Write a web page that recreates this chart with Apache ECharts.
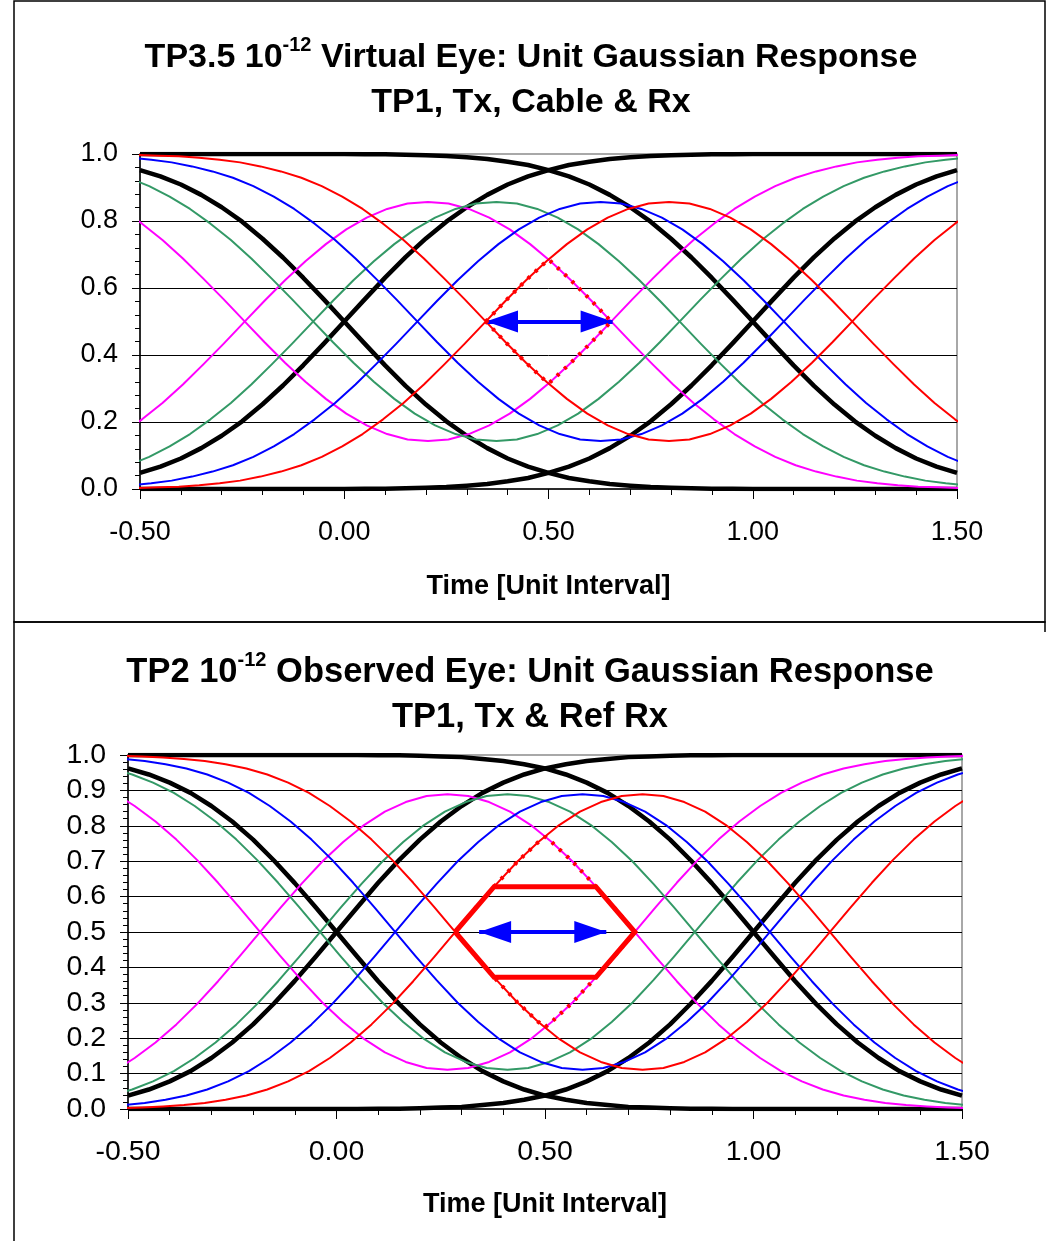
<!DOCTYPE html>
<html>
<head>
<meta charset="utf-8">
<script src="https://cdn.jsdelivr.net/npm/echarts@6/dist/echarts.min.js"></script>
<style>
html,body{margin:0;padding:0;background:#ffffff;}
#chart{width:1050px;height:1241px;}
</style>
</head>
<body>
<div id="chart"></div>
<script>
const FONT = "'Liberation Sans', Arial, Helvetica, sans-serif";

// ---------- tick labels ----------
const xTickLabels = ['-0.50', '0.00', '0.50', '1.00', '1.50'];
const yTickLabelsP1 = ['0.0', '0.2', '0.4', '0.6', '0.8', '1.0'];
const yTickLabelsP2 = ['0.0', '0.1', '0.2', '0.3', '0.4', '0.5', '0.6', '0.7', '0.8', '0.9', '1.0'];

// ---------- sample times [UI] for the black edges ----------
const timeX = [-0.5,-0.45,-0.4,-0.35,-0.3,-0.25,-0.2,-0.15,-0.1,-0.05,0,0.05,0.1,0.15,0.2,0.25,0.3,0.35,0.4,0.45,0.5,0.55,0.6,0.65,0.7,0.75,0.8,0.85,0.9,0.95,1,1.05,1.1,1.15,1.2,1.25,1.3,1.35,1.4,1.45,1.5];

// ================= Panel 1 : TP3.5 virtual eye =================
const blackRise0P1 = [0.048,0.067,0.091,0.122,0.159,0.202,0.253,0.309,0.370,0.434,0.500,0.566,0.631,0.692,0.748,0.798,0.841,0.878,0.909,0.933,0.952,0.967,0.977,0.985,0.990,0.994,0.996,0.998,0.999,0.999,1,1,1,1,1,1,1,1,1,1,1];
const blackFall0P1 = [0.952,0.933,0.909,0.878,0.841,0.798,0.747,0.691,0.630,0.566,0.500,0.434,0.369,0.308,0.252,0.202,0.159,0.122,0.091,0.067,0.048,0.033,0.023,0.015,0.010,0.006,0.004,0.002,0.001,0.001,0,0,0,0,0,0,0,0,0,0,0];
const blackRise1P1 = [0,0,0,0,0,0,0,0,0,0,0,0.001,0.001,0.002,0.004,0.006,0.010,0.015,0.023,0.033,0.048,0.067,0.091,0.122,0.159,0.202,0.253,0.309,0.370,0.434,0.500,0.566,0.631,0.692,0.748,0.798,0.841,0.878,0.909,0.933,0.952];
const blackFall1P1 = [1,1,1,1,1,1,1,1,1,1,1,0.999,0.999,0.998,0.996,0.994,0.990,0.985,0.977,0.967,0.952,0.933,0.909,0.878,0.841,0.798,0.747,0.691,0.630,0.566,0.500,0.434,0.369,0.308,0.252,0.202,0.159,0.122,0.091,0.067,0.048];

const redXP1 = [-0.505,-0.455,-0.405,-0.355,-0.305,-0.255,-0.205,-0.155,-0.105,-0.055,-0.005,0.045,0.095,0.145,0.195,0.245,0.295,0.345,0.395,0.445,0.495,0.545,0.595,0.645,0.695,0.745,0.795,0.845,0.895,0.945,0.995,1.045,1.095,1.145,1.195,1.245,1.295,1.345,1.395,1.445,1.495,1.545];
const redP1 = [0.003,0.005,0.007,0.011,0.017,0.025,0.037,0.052,0.071,0.096,0.127,0.164,0.208,0.257,0.312,0.372,0.434,0.498,0.562,0.623,0.680,0.731,0.775,0.810,0.836,0.852,0.857,0.852,0.836,0.810,0.775,0.731,0.680,0.623,0.562,0.498,0.434,0.372,0.312,0.257,0.208,0.164];
const redInvP1 = [0.997,0.995,0.993,0.989,0.983,0.975,0.963,0.948,0.929,0.904,0.873,0.836,0.792,0.743,0.688,0.628,0.566,0.502,0.438,0.377,0.320,0.269,0.225,0.190,0.164,0.148,0.143,0.148,0.164,0.190,0.225,0.269,0.320,0.377,0.438,0.502,0.566,0.628,0.688,0.743,0.792,0.836];

const magXP1 = [-0.545,-0.495,-0.445,-0.395,-0.345,-0.295,-0.245,-0.195,-0.145,-0.095,-0.045,0.005,0.055,0.105,0.155,0.205,0.255,0.305,0.355,0.405,0.455,0.505,0.555,0.605,0.655,0.705,0.755,0.805,0.855,0.905,0.955,1.005,1.055,1.105,1.155,1.205,1.255,1.305,1.355,1.405,1.455,1.505];
const magP1 = [0.164,0.208,0.257,0.312,0.372,0.434,0.498,0.562,0.623,0.680,0.731,0.775,0.810,0.836,0.852,0.857,0.852,0.836,0.810,0.775,0.731,0.680,0.623,0.562,0.498,0.434,0.372,0.312,0.257,0.208,0.164,0.127,0.096,0.071,0.052,0.037,0.025,0.017,0.011,0.007,0.005,0.003];
const magInvP1 = [0.836,0.792,0.743,0.688,0.628,0.566,0.502,0.438,0.377,0.320,0.269,0.225,0.190,0.164,0.148,0.143,0.148,0.164,0.190,0.225,0.269,0.320,0.377,0.438,0.502,0.566,0.628,0.688,0.743,0.792,0.836,0.873,0.904,0.929,0.948,0.963,0.975,0.983,0.989,0.993,0.995,0.997];

const blueXP1 = [-0.5225,-0.4725,-0.4225,-0.3725,-0.3225,-0.2725,-0.2225,-0.1725,-0.1225,-0.0725,-0.0225,0.0275,0.0775,0.1275,0.1775,0.2275,0.2775,0.3275,0.3775,0.4275,0.4775,0.5275,0.5775,0.6275,0.6775,0.7275,0.7775,0.8275,0.8775,0.9275,0.9775,1.0275,1.0775,1.1275,1.1775,1.2275,1.2775,1.3275,1.3775,1.4275,1.4775,1.5275];
const blueP1 = [0.011,0.017,0.025,0.037,0.052,0.071,0.096,0.127,0.164,0.208,0.257,0.312,0.372,0.434,0.498,0.562,0.623,0.680,0.731,0.775,0.810,0.836,0.852,0.857,0.852,0.836,0.810,0.775,0.731,0.680,0.623,0.562,0.498,0.434,0.372,0.312,0.257,0.208,0.164,0.127,0.096,0.071];
const blueInvP1 = [0.989,0.983,0.975,0.963,0.948,0.929,0.904,0.873,0.836,0.792,0.743,0.688,0.628,0.566,0.502,0.438,0.377,0.320,0.269,0.225,0.190,0.164,0.148,0.143,0.148,0.164,0.190,0.225,0.269,0.320,0.377,0.438,0.502,0.566,0.628,0.688,0.743,0.792,0.836,0.873,0.904,0.929];

const greenXP1 = [-0.5275,-0.4775,-0.4275,-0.3775,-0.3275,-0.2775,-0.2275,-0.1775,-0.1275,-0.0775,-0.0275,0.0225,0.0725,0.1225,0.1725,0.2225,0.2725,0.3225,0.3725,0.4225,0.4725,0.5225,0.5725,0.6225,0.6725,0.7225,0.7725,0.8225,0.8725,0.9225,0.9725,1.0225,1.0725,1.1225,1.1725,1.2225,1.2725,1.3225,1.3725,1.4225,1.4725,1.5225];
const greenP1 = [0.071,0.096,0.127,0.164,0.208,0.257,0.312,0.372,0.434,0.498,0.562,0.623,0.680,0.731,0.775,0.810,0.836,0.852,0.857,0.852,0.836,0.810,0.775,0.731,0.680,0.623,0.562,0.498,0.434,0.372,0.312,0.257,0.208,0.164,0.127,0.096,0.071,0.052,0.037,0.025,0.017,0.011];
const greenInvP1 = [0.929,0.904,0.873,0.836,0.792,0.743,0.688,0.628,0.566,0.502,0.438,0.377,0.320,0.269,0.225,0.190,0.164,0.148,0.143,0.148,0.164,0.190,0.225,0.269,0.320,0.377,0.438,0.502,0.566,0.628,0.688,0.743,0.792,0.836,0.873,0.904,0.929,0.948,0.963,0.975,0.983,0.989];

// eye boundary (dotted) and eye-width arrow
const eyeXP1 = [0.3466,0.395,0.445,0.495,0.5,0.505,0.555,0.605,0.6534,0.605,0.555,0.505,0.5,0.495,0.445,0.395,0.3466];
const eyeYP1 = [0.5,0.562,0.623,0.680,0.685,0.680,0.623,0.562,0.5,0.438,0.377,0.320,0.315,0.320,0.377,0.438,0.5];
const arrowXP1 = [0.347, 0.657];
const arrowY = 0.5;

// ================= Panel 2 : TP2 observed eye =================
const blackRise0P2 = [0.038,0.055,0.078,0.107,0.144,0.188,0.239,0.298,0.362,0.430,0.500,0.570,0.639,0.703,0.761,0.812,0.856,0.893,0.922,0.945,0.962,0.974,0.983,0.989,0.994,0.996,0.998,0.999,0.999,1,1,1,1,1,1,1,1,1,1,1,1];
const blackFall0P2 = [0.962,0.945,0.922,0.893,0.856,0.812,0.761,0.702,0.638,0.570,0.500,0.430,0.361,0.297,0.239,0.188,0.144,0.107,0.078,0.055,0.038,0.026,0.017,0.011,0.006,0.004,0.002,0.001,0.001,0,0,0,0,0,0,0,0,0,0,0,0];
const blackRise1P2 = [0,0,0,0,0,0,0,0,0,0,0,0,0.001,0.001,0.002,0.004,0.006,0.011,0.017,0.026,0.038,0.055,0.078,0.107,0.144,0.188,0.239,0.298,0.362,0.430,0.500,0.570,0.639,0.703,0.761,0.812,0.856,0.893,0.922,0.945,0.962];
const blackFall1P2 = [1,1,1,1,1,1,1,1,1,1,1,1,0.999,0.999,0.998,0.996,0.994,0.989,0.983,0.974,0.962,0.945,0.922,0.893,0.856,0.812,0.761,0.702,0.638,0.570,0.500,0.430,0.361,0.297,0.239,0.188,0.144,0.107,0.078,0.055,0.038];

const redXP2 = [-0.516,-0.466,-0.416,-0.366,-0.316,-0.266,-0.216,-0.166,-0.116,-0.066,-0.016,0.034,0.084,0.134,0.184,0.234,0.284,0.334,0.384,0.434,0.484,0.534,0.584,0.634,0.684,0.734,0.784,0.834,0.884,0.934,0.984,1.034,1.084,1.134,1.184,1.234,1.284,1.334,1.384,1.434,1.484,1.534];
const redP2 = [0.002,0.004,0.007,0.011,0.017,0.026,0.038,0.055,0.078,0.107,0.144,0.188,0.239,0.297,0.361,0.429,0.499,0.569,0.636,0.699,0.754,0.802,0.840,0.867,0.884,0.889,0.884,0.867,0.840,0.802,0.754,0.699,0.636,0.569,0.499,0.429,0.361,0.297,0.239,0.188,0.144,0.107];
const redInvP2 = [0.998,0.996,0.993,0.989,0.983,0.974,0.962,0.945,0.922,0.893,0.856,0.812,0.761,0.703,0.639,0.571,0.501,0.431,0.364,0.301,0.246,0.198,0.160,0.133,0.116,0.111,0.116,0.133,0.160,0.198,0.246,0.301,0.364,0.431,0.501,0.571,0.639,0.703,0.761,0.812,0.856,0.893];

const magXP2 = [-0.534,-0.484,-0.434,-0.384,-0.334,-0.284,-0.234,-0.184,-0.134,-0.084,-0.034,0.016,0.066,0.116,0.166,0.216,0.266,0.316,0.366,0.416,0.466,0.516,0.566,0.616,0.666,0.716,0.766,0.816,0.866,0.916,0.966,1.016,1.066,1.116,1.166,1.216,1.266,1.316,1.366,1.416,1.466,1.516];
const magP2 = [0.107,0.144,0.188,0.239,0.297,0.361,0.429,0.499,0.569,0.636,0.699,0.754,0.802,0.840,0.867,0.884,0.889,0.884,0.867,0.840,0.802,0.754,0.699,0.636,0.569,0.499,0.429,0.361,0.297,0.239,0.188,0.144,0.107,0.078,0.055,0.038,0.026,0.017,0.011,0.007,0.004,0.002];
const magInvP2 = [0.893,0.856,0.812,0.761,0.703,0.639,0.571,0.501,0.431,0.364,0.301,0.246,0.198,0.160,0.133,0.116,0.111,0.116,0.133,0.160,0.198,0.246,0.301,0.364,0.431,0.501,0.571,0.639,0.703,0.761,0.812,0.856,0.893,0.922,0.945,0.962,0.974,0.983,0.989,0.993,0.996,0.998];

const blueXP2 = [-0.51,-0.46,-0.41,-0.36,-0.31,-0.26,-0.21,-0.16,-0.11,-0.06,-0.01,0.04,0.09,0.14,0.19,0.24,0.29,0.34,0.39,0.44,0.49,0.54,0.59,0.64,0.69,0.74,0.79,0.84,0.89,0.94,0.99,1.04,1.09,1.14,1.19,1.24,1.29,1.34,1.39,1.44,1.49,1.54];
const blueP2 = [0.011,0.017,0.026,0.038,0.055,0.078,0.107,0.144,0.188,0.239,0.297,0.361,0.429,0.499,0.569,0.636,0.699,0.754,0.802,0.840,0.867,0.884,0.889,0.884,0.867,0.840,0.802,0.754,0.699,0.636,0.569,0.499,0.429,0.361,0.297,0.239,0.188,0.144,0.107,0.078,0.055,0.038];
const blueInvP2 = [0.989,0.983,0.974,0.962,0.945,0.922,0.893,0.856,0.812,0.761,0.703,0.639,0.571,0.501,0.431,0.364,0.301,0.246,0.198,0.160,0.133,0.116,0.111,0.116,0.133,0.160,0.198,0.246,0.301,0.364,0.431,0.501,0.571,0.639,0.703,0.761,0.812,0.856,0.893,0.922,0.945,0.962];

const greenXP2 = [-0.54,-0.49,-0.44,-0.39,-0.34,-0.29,-0.24,-0.19,-0.14,-0.09,-0.04,0.01,0.06,0.11,0.16,0.21,0.26,0.31,0.36,0.41,0.46,0.51,0.56,0.61,0.66,0.71,0.76,0.81,0.86,0.91,0.96,1.01,1.06,1.11,1.16,1.21,1.26,1.31,1.36,1.41,1.46,1.51];
const greenP2 = [0.038,0.055,0.078,0.107,0.144,0.188,0.239,0.297,0.361,0.429,0.499,0.569,0.636,0.699,0.754,0.802,0.840,0.867,0.884,0.889,0.884,0.867,0.840,0.802,0.754,0.699,0.636,0.569,0.499,0.429,0.361,0.297,0.239,0.188,0.144,0.107,0.078,0.055,0.038,0.026,0.017,0.011];
const greenInvP2 = [0.962,0.945,0.922,0.893,0.856,0.812,0.761,0.703,0.639,0.571,0.501,0.431,0.364,0.301,0.246,0.198,0.160,0.133,0.116,0.111,0.116,0.133,0.160,0.198,0.246,0.301,0.364,0.431,0.501,0.571,0.639,0.703,0.761,0.812,0.856,0.893,0.922,0.945,0.962,0.974,0.983,0.989];

const eyeXP2 = [0.2845,0.334,0.384,0.434,0.484,0.5,0.516,0.566,0.616,0.666,0.7155,0.666,0.616,0.566,0.516,0.5,0.484,0.434,0.384,0.334,0.2845];
const eyeYP2 = [0.5,0.569,0.636,0.699,0.754,0.769,0.754,0.699,0.636,0.569,0.5,0.431,0.364,0.301,0.246,0.231,0.246,0.301,0.364,0.431,0.5];
const hexXP2 = [0.2845,0.378,0.622,0.7155,0.622,0.378,0.2845];
const hexYP2 = [0.5,0.628,0.628,0.5,0.372,0.372,0.5];
const arrowXP2 = [0.342, 0.647];

// ---------- colours ----------
const C_BLACK = '#000000', C_RED = '#FF0000', C_BLUE = '#0000FF', C_GREEN = '#339966', C_MAG = '#FF00FF';

// arrow head whose tip sits at the centre of its symbol box (tiny dummy point balances the box)
const ARROW_HEAD = 'path://M0,0 L1,2 L-1,2 Z M0,-2 L0.001,-2 L0,-2 Z';

function pairs(xs, ys) { return xs.map((x, i) => [x, ys[i]]); }
function curve(g, xs, ys, color, width, z, extra) {
  return Object.assign({
    type: 'line', xAxisIndex: g, yAxisIndex: g,
    data: pairs(xs, ys), symbol: 'none', showSymbol: false,
    silent: true, animation: false, clip: true, z: z,
    lineStyle: { color: color, width: width, join: 'round' }
  }, extra || {});
}
function arrowMark(xs) {
  return {
    silent: true, animation: false,
    symbol: [ARROW_HEAD, ARROW_HEAD], symbolSize: [22, 64],
    label: { show: false },
    lineStyle: { color: C_BLUE, width: 4, type: 'solid' },
    itemStyle: { color: C_BLUE },
    emphasis: { disabled: true },
    data: [[{ coord: [xs[0], arrowY] }, { coord: [xs[1], arrowY] }]]
  };
}
function xAxisFor(g, fs, margin, gap) {
  return {
    gridIndex: g, type: 'value', min: -0.5, max: 1.5, interval: 0.5,
    name: 'Time [Unit Interval]', nameLocation: 'middle', nameGap: gap,
    nameTextStyle: { fontFamily: FONT, fontSize: 27, fontWeight: 'bold', color: '#000' },
    axisLine: { show: true, onZero: false, lineStyle: { color: '#000', width: 1.5 } },
    axisTick: { show: true, length: 10, lineStyle: { color: '#000', width: 1 } },
    minorTick: { show: true, splitNumber: 5, length: 6, lineStyle: { color: '#000', width: 1 } },
    splitLine: { show: false },
    axisLabel: { fontFamily: FONT, fontSize: fs, color: '#000', margin: margin,
      formatter: v => xTickLabels[Math.round((v + 0.5) / 0.5)] }
  };
}
function yAxisFor(g, iv, labels, fs) {
  return {
    gridIndex: g, type: 'value', min: 0, max: 1, interval: iv,
    axisLine: { show: true, onZero: false, lineStyle: { color: '#000', width: 1.5 } },
    axisTick: { show: true, length: 8, lineStyle: { color: '#000', width: 1 } },
    minorTick: { show: true, splitNumber: 5, length: 5, lineStyle: { color: '#000', width: 1 } },
    splitLine: { show: true, showMinLine: false, showMaxLine: false, lineStyle: { color: '#000', width: 1 } },
    axisLabel: { fontFamily: FONT, fontSize: fs, color: '#000', margin: 22,
      formatter: v => labels[Math.round(v / iv)] }
  };
}
function panelSeries(g, d) {
  return [
    curve(g, timeX, d.r0, C_BLACK, 4.5, 2),
    curve(g, timeX, d.f0, C_BLACK, 4.5, 2),
    curve(g, timeX, d.r1, C_BLACK, 4.5, 2),
    curve(g, timeX, d.f1, C_BLACK, 4.5, 2),
    curve(g, d.mx, d.m, C_MAG, 2, 3), curve(g, d.mx, d.mi, C_MAG, 2, 3),
    curve(g, d.gx, d.gr, C_GREEN, 2, 3), curve(g, d.gx, d.gi, C_GREEN, 2, 3),
    curve(g, d.bx, d.b, C_BLUE, 2, 3), curve(g, d.bx, d.bi, C_BLUE, 2, 3),
    curve(g, d.rx, d.r, C_RED, 2, 3), curve(g, d.rx, d.ri, C_RED, 2, 3)
  ];
}

const series = [].concat(
  panelSeries(0, { r0: blackRise0P1, f0: blackFall0P1, r1: blackRise1P1, f1: blackFall1P1,
    mx: magXP1, m: magP1, mi: magInvP1, gx: greenXP1, gr: greenP1, gi: greenInvP1,
    bx: blueXP1, b: blueP1, bi: blueInvP1, rx: redXP1, r: redP1, ri: redInvP1 }),
  [curve(0, eyeXP1, eyeYP1, C_RED, 4, 5, { lineStyle: { color: C_RED, width: 4, type: [3, 7] }, markLine: arrowMark(arrowXP1) })],
  panelSeries(1, { r0: blackRise0P2, f0: blackFall0P2, r1: blackRise1P2, f1: blackFall1P2,
    mx: magXP2, m: magP2, mi: magInvP2, gx: greenXP2, gr: greenP2, gi: greenInvP2,
    bx: blueXP2, b: blueP2, bi: blueInvP2, rx: redXP2, r: redP2, ri: redInvP2 }),
  [curve(1, eyeXP2, eyeYP2, C_RED, 4, 5, { lineStyle: { color: C_RED, width: 4, type: [3, 7] } }),
   curve(1, hexXP2, hexYP2, C_RED, 5, 6, { lineStyle: { color: C_RED, width: 5, join: 'miter' }, markLine: arrowMark(arrowXP2) })]
);

function titleRich(fs) {
  return {
    t: { fontFamily: FONT, fontSize: fs, fontWeight: 'bold', color: '#000', lineHeight: 45, verticalAlign: 'middle' },
    s: { fontFamily: FONT, fontSize: 20, fontWeight: 'bold', color: '#000', lineHeight: 14, verticalAlign: 'top' }
  };
}

const option = {
  backgroundColor: '#ffffff',
  animation: false,
  title: [
    { text: '{t|TP3.5 10}{s|-12}{t| Virtual Eye: Unit Gaussian Response}\n{t|TP1, Tx, Cable & Rx}',
      left: 531, top: 35, textAlign: 'center', padding: 0, textStyle: { rich: titleRich(34) } },
    { text: '{t|TP2 10}{s|-12}{t| Observed Eye: Unit Gaussian Response}\n{t|TP1, Tx & Ref Rx}',
      left: 530, top: 650, textAlign: 'center', padding: 0, textStyle: { rich: titleRich(34.5) } }
  ],
  grid: [
    { left: 140, top: 154, width: 817, height: 335, show: true, borderColor: '#8c8c8c', borderWidth: 1.5,
      backgroundColor: 'rgba(0,0,0,0)', containLabel: false, outerBoundsMode: 'none' },
    { left: 128, top: 755, width: 834, height: 354, show: true, borderColor: '#8c8c8c', borderWidth: 1.5,
      backgroundColor: 'rgba(0,0,0,0)', containLabel: false, outerBoundsMode: 'none' }
  ],
  xAxis: [xAxisFor(0, 27, 30, 84), xAxisFor(1, 28.5, 29, 82)],
  yAxis: [yAxisFor(0, 0.2, yTickLabelsP1, 27), yAxisFor(1, 0.1, yTickLabelsP2, 28.5)],
  graphic: [
    { type: 'rect', silent: true, shape: { x: 14, y: 1, width: 1031, height: 621 },
      style: { fill: 'none', stroke: '#000', lineWidth: 1.5 } },
    { type: 'polyline', silent: true, shape: { points: [[14, 1241], [14, 622], [1045, 622], [1045, 632]] },
      style: { fill: 'none', stroke: '#000', lineWidth: 1.5 } }
  ],
  series: series
};

const chart = echarts.init(document.getElementById('chart'), null, { renderer: 'canvas' });
chart.setOption(option);
</script>
</body>
</html>
